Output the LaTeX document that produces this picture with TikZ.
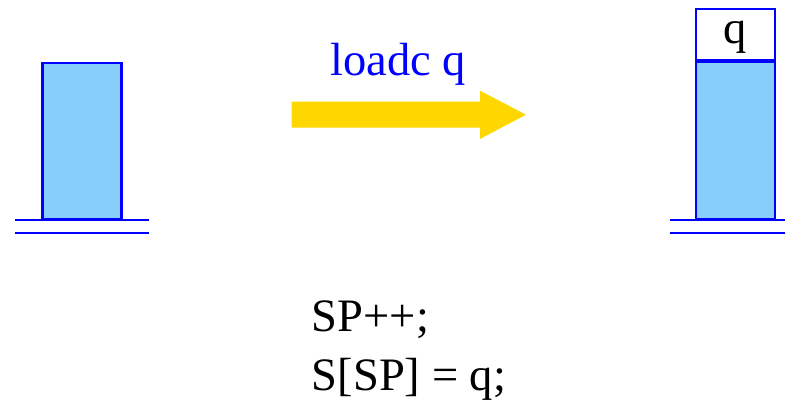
\documentclass[tikz,border=0pt]{standalone}
\usepackage{fontspec}
\setmainfont{Liberation Serif}
\definecolor{stackfill}{RGB}{135,206,250}
\definecolor{stackline}{RGB}{0,0,255}
\definecolor{arrowgold}{RGB}{255,215,0}
\begin{document}
\begin{tikzpicture}[x=1pt,y=-1pt,
  stackbox/.style={draw=stackline,fill=stackfill,line width=2.2pt,inner sep=0pt,minimum width=79pt},
  cellbox/.style={draw=stackline,fill=white,line width=2.2pt,inner sep=0pt,minimum width=79pt},
  ground/.style={draw=stackline,line width=2.2pt},
  bigtext/.style={font=\fontsize{46.5}{54}\selectfont,inner sep=0pt}]
\useasboundingbox (0,0) rectangle (785,420);
% left stack
\node[stackbox,minimum height=156.5pt] (ls) at (82,141) {};
\draw[ground] ([xshift=-26pt]ls.south west) -- ([xshift=26pt]ls.south east);
\coordinate (lg1) at ([xshift=-26pt,yshift=-13pt]ls.south west);
\coordinate (lg2) at ([xshift=26pt,yshift=-13pt]ls.south east);
\draw[ground] (lg1) -- (lg2);
% right stack
\node[stackbox,minimum height=157pt] (rs) at (735.5,140.5) {};
\node[cellbox,minimum height=51pt,anchor=south] (rq) at (rs.north) {};
\node[bigtext,anchor=base] (qv) at ([yshift=17pt]rq.south) {q};
\draw[ground] ([xshift=-25pt]rs.south west) -- ([xshift=11pt]rs.south east);
\coordinate (rg1) at ([xshift=-25pt,yshift=-13pt]rs.south west);
\coordinate (rg2) at ([xshift=11pt,yshift=-13pt]rs.south east);
\draw[ground] (rg1) -- (rg2);
% arrow
\fill[arrowgold] (291.7,101.7) -- (480,101.7) -- (480,90.7) -- (526,114.7) -- (480,139) -- (480,127.7) -- (291.7,127.7) -- cycle;
\node[bigtext,text=stackline,anchor=base] (lbl) at (398,76) {loadc q};
% code
\node[bigtext,anchor=base west] (c1) at (311.7,331.7) {SP++;};
\node[bigtext,anchor=base west] (c2) at (311.7,390) {S[SP] = q;};
\end{tikzpicture}
\end{document}
